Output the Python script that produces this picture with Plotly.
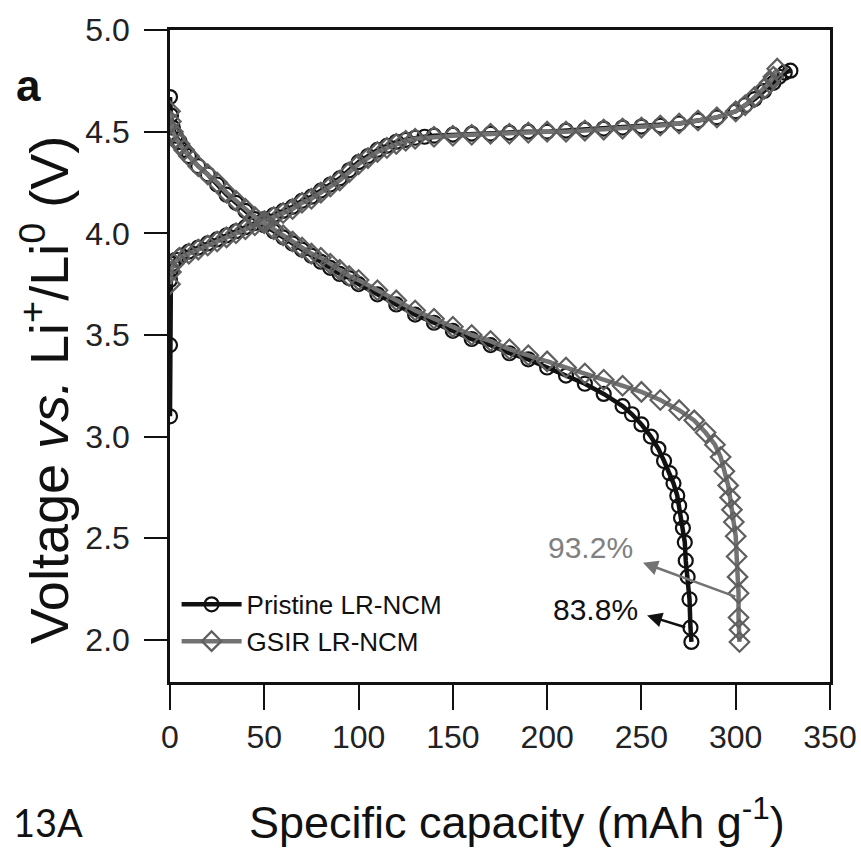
import plotly.graph_objects as go

# ---------------- data ----------------
pristine_charge_x = [0, 0, 0, 0.5, 1.5, 3, 6, 10, 15, 20, 25, 30, 35, 40, 45, 50, 55, 60, 65, 70,
                     75, 80, 85, 90, 95, 100, 105, 110, 115, 120, 125, 130, 135, 140, 150, 160, 170,
                     180, 190, 200, 210, 220, 230, 240, 250, 260, 270, 280, 290, 300, 305, 310, 315,
                     320, 323, 326, 329]
pristine_charge_y = [3.10, 3.45, 3.77, 3.82, 3.85, 3.87, 3.89, 3.91, 3.93, 3.95, 3.97, 3.99, 4.01,
                     4.03, 4.05, 4.07, 4.09, 4.11, 4.13, 4.16, 4.18, 4.21, 4.24, 4.27, 4.31, 4.35,
                     4.38, 4.41, 4.43, 4.45, 4.46, 4.47, 4.475, 4.48, 4.485, 4.49, 4.49, 4.495, 4.50,
                     4.50, 4.505, 4.51, 4.515, 4.52, 4.525, 4.53, 4.54, 4.555, 4.57, 4.60, 4.63, 4.66,
                     4.70, 4.74, 4.77, 4.79, 4.80]

gsir_charge_x = [0, 0.5, 2, 5, 10, 15, 20, 25, 30, 35, 40, 45, 50, 55, 60, 65, 70, 75, 80, 85, 90,
                 95, 100, 105, 110, 115, 120, 125, 130, 140, 150, 160, 170, 180, 190, 200, 210, 220,
                 230, 240, 250, 260, 270, 280, 290, 300, 305, 310, 315, 318, 320, 322]
gsir_charge_y = [3.75, 3.81, 3.85, 3.88, 3.90, 3.92, 3.94, 3.96, 3.98, 4.00, 4.02, 4.04, 4.06, 4.08,
                 4.10, 4.12, 4.15, 4.17, 4.20, 4.23, 4.26, 4.30, 4.34, 4.37, 4.40, 4.42, 4.44, 4.455,
                 4.465, 4.475, 4.48, 4.485, 4.49, 4.49, 4.495, 4.50, 4.50, 4.505, 4.51, 4.515, 4.52,
                 4.53, 4.54, 4.555, 4.57, 4.60, 4.63, 4.67, 4.71, 4.74, 4.77, 4.81]

pristine_dis_x = [0, 0.5, 1.5, 3, 5, 7.5, 10, 15, 20, 25, 30, 35, 40, 45, 50, 55, 60, 65, 70, 75,
                  80, 85, 90, 95, 100, 110, 120, 130, 140, 150, 160, 170, 180, 190, 200, 210, 220,
                  230, 240, 245, 250, 255, 259, 262, 265, 267, 269, 270, 271, 272, 273, 273.5,
                  274.5, 275.5, 276, 276.5]
pristine_dis_y = [4.67, 4.58, 4.52, 4.48, 4.45, 4.41, 4.38, 4.33, 4.29, 4.24, 4.19, 4.15, 4.11,
                  4.07, 4.04, 4.01, 3.98, 3.95, 3.92, 3.89, 3.86, 3.83, 3.80, 3.78, 3.75, 3.70,
                  3.65, 3.60, 3.56, 3.52, 3.48, 3.45, 3.41, 3.38, 3.34, 3.30, 3.26, 3.21, 3.15,
                  3.11, 3.06, 3.00, 2.94, 2.88, 2.82, 2.77, 2.71, 2.66, 2.60, 2.55, 2.48, 2.39,
                  2.31, 2.20, 2.06, 1.99]

gsir_dis_x = [0, 0.5, 1.5, 3, 5, 7.5, 10, 15, 20, 25, 30, 35, 40, 45, 50, 55, 60, 65, 70, 75, 80,
              85, 90, 95, 100, 110, 120, 130, 140, 150, 160, 170, 180, 190, 200, 210, 220, 230,
              240, 250, 260, 270, 278, 284, 289, 292, 294, 296, 297, 298, 299, 300, 300.5, 301,
              301.5, 301.5, 302, 302]
gsir_dis_y = [4.60, 4.55, 4.50, 4.47, 4.44, 4.41, 4.38, 4.33, 4.29, 4.25, 4.20, 4.16, 4.12, 4.08,
              4.05, 4.02, 3.99, 3.96, 3.93, 3.90, 3.88, 3.85, 3.82, 3.79, 3.77, 3.72, 3.67, 3.62,
              3.58, 3.54, 3.50, 3.47, 3.43, 3.40, 3.37, 3.34, 3.31, 3.28, 3.25, 3.22, 3.18, 3.13,
              3.08, 3.02, 2.96, 2.90, 2.83, 2.76, 2.70, 2.64, 2.58, 2.51, 2.41, 2.31, 2.23, 2.11,
              2.05, 1.99]

x_ticks = [0, 50, 100, 150, 200, 250, 300, 350]
y_ticks = [2.0, 2.5, 3.0, 3.5, 4.0, 4.5, 5.0]
y_tick_labels = ["2.0", "2.5", "3.0", "3.5", "4.0", "4.5", "5.0"]

retention_labels = ["93.2%", "83.8%"]

# ---------------- styles ----------------
C_PRI = "#111111"
C_GSIR = "#737373"
FONT = "Liberation Sans, Arial, sans-serif"

fig = go.Figure()

pri_style = dict(mode="lines+markers", line=dict(color=C_PRI, width=4.5),
                 marker=dict(symbol="circle-open", size=14, color=C_PRI, line=dict(width=2.2)))
gsir_style = dict(mode="lines+markers", line=dict(color=C_GSIR, width=4.5),
                  marker=dict(symbol="diamond-open", size=15, color="#5f5f5f", line=dict(width=2.2)))

fig.add_trace(go.Scatter(x=pristine_charge_x, y=pristine_charge_y, name="Pristine LR-NCM",
                         legendgroup="p", showlegend=True, **pri_style))
fig.add_trace(go.Scatter(x=pristine_dis_x, y=pristine_dis_y, name="Pristine LR-NCM",
                         legendgroup="p", showlegend=False, **pri_style))
fig.add_trace(go.Scatter(x=gsir_charge_x, y=gsir_charge_y, name="GSIR LR-NCM",
                         legendgroup="g", showlegend=True, **gsir_style))
fig.add_trace(go.Scatter(x=gsir_dis_x, y=gsir_dis_y, name="GSIR LR-NCM",
                         legendgroup="g", showlegend=False, **gsir_style))

axis_common = dict(showgrid=False, zeroline=False, showline=True, linecolor="#111111",
                   linewidth=2.5, mirror=True, ticks="outside", tickcolor="#111111",
                   tickwidth=2, automargin=False)

fig.update_xaxes(range=[0, 350], tickvals=x_ticks, ticklen=25,
                 tickfont=dict(family=FONT, size=32, color="#222"), **axis_common)
fig.update_yaxes(range=[1.793, 5.0], tickvals=y_ticks, ticktext=y_tick_labels, ticklen=23,
                 ticklabelstandoff=8,
                 tickfont=dict(family=FONT, size=32, color="#222"), **axis_common)

def label(x, y, text, size, color="#111111", family=FONT, **kw):
    return dict(x=x, y=y, xref="paper", yref="paper", text=text, showarrow=False,
                xanchor="center", yanchor="middle",
                font=dict(family=family, size=size, color=color), **kw)

annotations = [
    # arrows (head near the label, tail on the curve)
    dict(x=250.8, y=2.38, ax=300.6, ay=2.21, xref="x", yref="y", axref="x", ayref="y",
         text="", showarrow=True, arrowhead=2, arrowsize=1.2, arrowwidth=2.5,
         arrowcolor=C_GSIR),
    dict(x=253, y=2.12, ax=274, ay=2.06, xref="x", yref="y", axref="x", ayref="y",
         text="", showarrow=True, arrowhead=2, arrowsize=1.2, arrowwidth=2.5,
         arrowcolor=C_PRI),
    dict(x=223.2, y=2.457, xref="x", yref="y", text=retention_labels[0], showarrow=False,
         xanchor="center", yanchor="middle",
         font=dict(family=FONT, size=30, color="#808080")),
    dict(x=225.9, y=2.148, xref="x", yref="y", text=retention_labels[1], showarrow=False,
         xanchor="center", yanchor="middle",
         font=dict(family=FONT, size=30, color="#111111")),
    label(-0.215, 0.915, "<b>a</b>", 44),
    label(-0.185, -0.215, "13A", 38, family="Lato, sans-serif"),
    label(0.525, -0.21, "Specific capacity (mAh g<sup>-1</sup>)", 45),
    label(-0.189, 0.448, "Voltage <i>vs.</i> Li<sup>+</sup>/Li<sup>0</sup> (V)", 54,
          textangle=-90),
]

fig.update_layout(
    width=861, height=850,
    margin=dict(l=170, r=31, t=30, b=168, autoexpand=False),
    paper_bgcolor="white", plot_bgcolor="white",
    annotations=annotations,
    legend=dict(x=0.01, y=0.155, xanchor="left", yanchor="top",
                bgcolor="rgba(0,0,0,0)", font=dict(family=FONT, size=26, color="#111111"),
                itemwidth=60, tracegroupgap=0),
    showlegend=True,
)

fig.write_html("out.html", config={"displayModeBar": False},
               post_script="document.body.style.margin='0';document.body.style.overflow='hidden';")
